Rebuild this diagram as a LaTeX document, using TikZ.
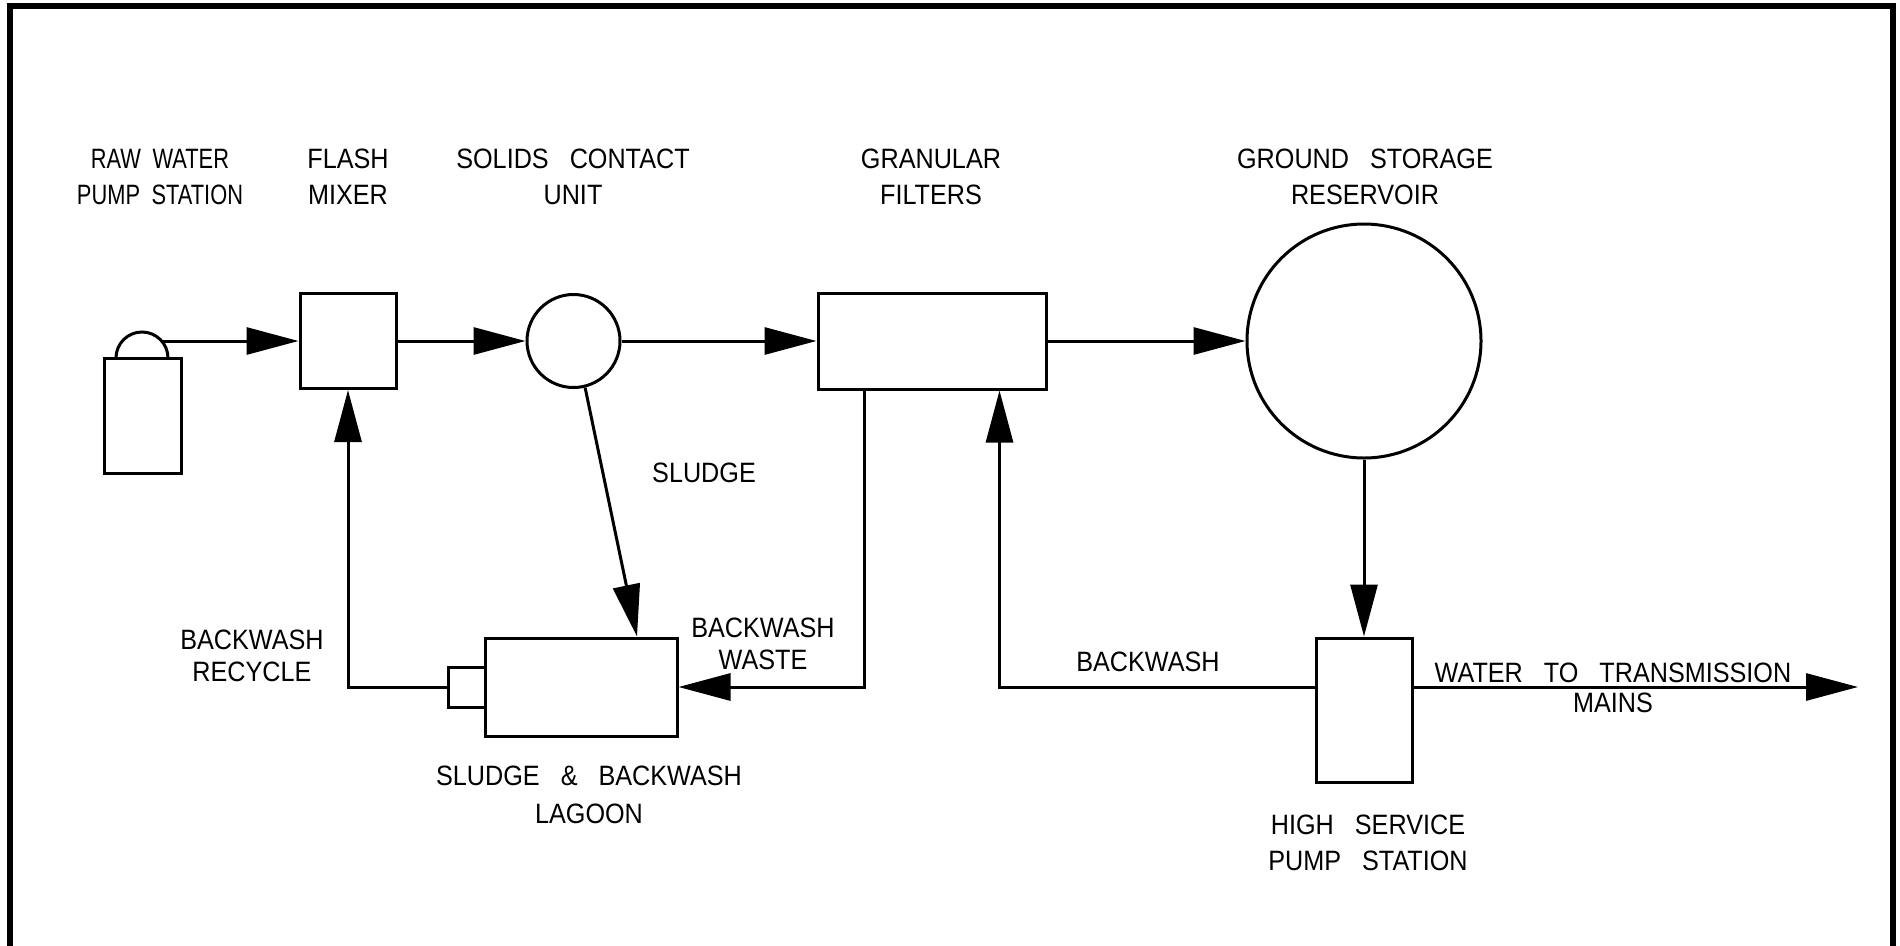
\documentclass[tikz,border=0pt]{standalone}
\usepackage{fontspec}
\setmainfont[FakeStretch=0.9,WordSpace=3]{Liberation Sans}
\newfontfamily\narrowlbl[FakeStretch=0.78,WordSpace=1.9]{Liberation Sans}
\usetikzlibrary{arrows.meta,calc}
\begin{document}
\begin{tikzpicture}[x=1pt,y=-1pt,
  unit/.style={draw, line width=3pt, inner sep=0pt, rectangle},
  tank/.style={draw, line width=3pt, inner sep=0pt, circle},
  pipe/.style={line width=3pt},
  flow/.style={pipe, -{Triangle[length=52pt,width=27pt]}},
  lbl/.style={font=\fontsize{28}{36}\selectfont, align=center, inner sep=0pt},
]
\useasboundingbox (0,0) rectangle (1900,945);
\clip (0,0) rectangle (1900,945);
% frame
\draw[line width=6pt] (10,960) -- (10,6) -- (1893,6) -- (1893,960);

% units
\node[unit, minimum width=77pt, minimum height=115pt] (pump) at (142.5,415.5) {};
\draw[pipe] (116,358) arc[start angle=180, end angle=0, radius=26pt];
\coordinate (domeR) at (161.7,341);
\node[unit, minimum width=96pt, minimum height=95pt] (mix) at (348,341) {};
\node[tank, minimum size=93pt] (scu) at (573.5,341) {};
\node[unit, minimum width=228pt, minimum height=96pt] (filt) at (932,341) {};
\node[tank, minimum size=234pt] (res) at (1364,341) {};
\node[unit, minimum width=192pt, minimum height=98pt] (lag) at (581,687) {};
\node[unit, minimum width=37pt, minimum height=40pt] (lagp) at (466.5,687) {};
\node[unit, minimum width=96pt, minimum height=144pt] (hsps) at (1364,710) {};
\coordinate (mainsEnd) at (1858,687);

% connectors
\draw[flow] (domeR) -- (mix.west);
\draw[flow] (mix.east) -- (scu.west);
\draw[flow] (scu.east) -- (filt.west);
\draw[flow] (filt.east) -- (res.west);
\draw[flow] (res.south) -- (hsps.north);
\draw[flow] (scu.-76) -- ($(lag.north)+(56,0)$);
\draw[flow] ($(filt.south west)+(48,0)$) |- (lag.east);
\draw[flow] (lagp.west) -| (mix.south);
\draw[flow] (hsps.west |- lag.east) -| ($(filt.south east)+(-48,0)$);
\draw[flow] (hsps.east |- lag.east) -- (mainsEnd);

% labels
\node[lbl, font=\narrowlbl\fontsize{28}{36}\selectfont] (lRaw) at (160,177) {RAW WATER\\PUMP STATION};
\node[lbl] (lFlash) at (348,177) {FLASH\\MIXER};
\node[lbl] (lScu) at (573,177) {SOLIDS CONTACT\\UNIT};
\node[lbl] (lFilt) at (931,177) {GRANULAR\\FILTERS};
\node[lbl] (lRes) at (1365,177) {GROUND STORAGE\\RESERVOIR};
\node[lbl] (lSludge) at (704,473) {SLUDGE};
\node[lbl] (lBWW) at (763,643.5) {BACKWASH\\[-4pt]WASTE};
\node[lbl] (lBWR) at (252,656) {BACKWASH\\[-4pt]RECYCLE};
\node[lbl] (lLag) at (589,795) {SLUDGE \& BACKWASH\\[2pt]LAGOON};
\node[lbl] (lBW) at (1148,662) {BACKWASH};
\node[lbl] (lMains) at (1613,687.5) {WATER TO TRANSMISSION\\[-6pt]MAINS};
\node[lbl] (lHS) at (1368,843) {HIGH SERVICE\\PUMP STATION};
\end{tikzpicture}
\end{document}
